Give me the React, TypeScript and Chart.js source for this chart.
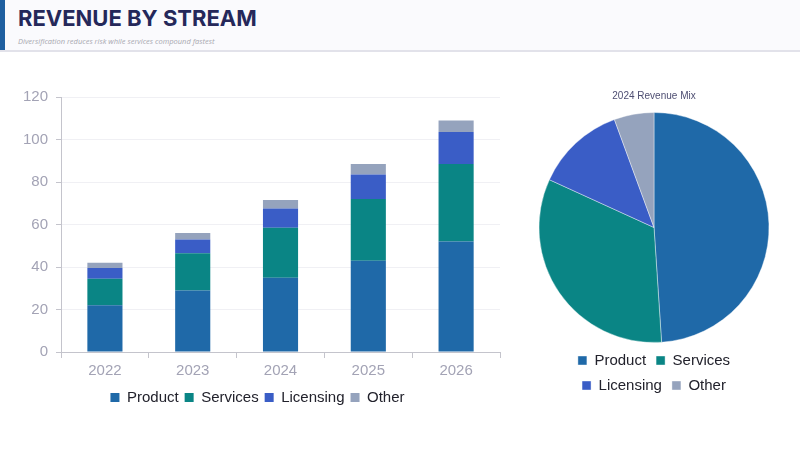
import { useEffect, useRef } from "react"
import { Chart, registerables } from "chart.js"

Chart.register(...registerables)

Chart.defaults.font.family = "'Liberation Sans', Arial, sans-serif"

const years = ["2022", "2023", "2024", "2025", "2026"]
const streams = ["Product", "Services", "Licensing", "Other"]
const product = [22, 29, 35, 43, 52]
const services = [12.5, 17.5, 23.5, 29, 36.5]
const licensing = [5, 6.5, 9, 11.5, 15]
const other = [2.5, 3, 4, 5, 5.5]
const yTicks = [0, 20, 40, 60, 80, 100, 120]
const pieYear = "2024"

const colors = ["#1f69a8", "#0a8585", "#3a5dc6", "#95a3bd"]
const tickColor = "#a3a3b5"
const axisColor = "#c4c4cc"

function BarChart() {
  const chartRef = useRef<HTMLCanvasElement>(null)
  const chartInstance = useRef<Chart | null>(null)

  useEffect(() => {
    if (!chartRef.current) return
    if (chartInstance.current) chartInstance.current.destroy()
    const ctx = chartRef.current.getContext("2d")
    if (!ctx) return

    const series = [product, services, licensing, other]

    chartInstance.current = new Chart(ctx, {
      type: "bar",
      data: {
        labels: years,
        datasets: series.map((values, i) => ({
          label: streams[i],
          data: values,
          backgroundColor: colors[i],
          barPercentage: 0.5,
          categoryPercentage: 0.8,
        })),
      },
      options: {
        animation: false,
        responsive: true,
        maintainAspectRatio: false,
        layout: { padding: { top: 5, right: 2, left: 5, bottom: 0 } },
        scales: {
          x: {
            stacked: true,
            grid: { drawOnChartArea: false, tickLength: 6, tickColor: axisColor },
            border: { color: axisColor },
            ticks: { color: tickColor, font: { size: 15 }, padding: 4 },
          },
          y: {
            stacked: true,
            min: yTicks[0],
            max: yTicks[yTicks.length - 1],
            ticks: { stepSize: 20, color: tickColor, font: { size: 15 }, padding: 8 },
            grid: { color: "#f0f0f4", tickLength: 5, tickColor: axisColor },
            border: { color: axisColor },
          },
        },
        plugins: {
          legend: {
            position: "bottom",
            labels: { boxWidth: 9, boxHeight: 9, color: "#22222c", font: { size: 15 }, padding: 6 },
          },
          tooltip: { enabled: false },
        },
      },
    })

    return () => {
      if (chartInstance.current) chartInstance.current.destroy()
    }
  }, [])

  return <canvas ref={chartRef} />
}

function PieChart() {
  const chartRef = useRef<HTMLCanvasElement>(null)
  const chartInstance = useRef<Chart | null>(null)

  useEffect(() => {
    if (!chartRef.current) return
    if (chartInstance.current) chartInstance.current.destroy()
    const ctx = chartRef.current.getContext("2d")
    if (!ctx) return

    const idx = years.indexOf(pieYear)

    chartInstance.current = new Chart(ctx, {
      type: "pie",
      data: {
        labels: streams,
        datasets: [
          {
            data: [product[idx], services[idx], licensing[idx], other[idx]],
            backgroundColor: colors,
            borderColor: "rgba(255,255,255,0.4)",
            borderWidth: 1,
          },
        ],
      },
      options: {
        animation: false,
        responsive: true,
        maintainAspectRatio: false,
        plugins: {
          title: {
            display: true,
            text: pieYear + " Revenue Mix",
            color: "#4e4e72",
            font: { size: 10, weight: "normal" },
            padding: { top: 5, bottom: 10 },
          },
          legend: {
            position: "bottom",
            labels: { boxWidth: 9, boxHeight: 9, color: "#22222c", font: { size: 15 }, padding: 10 },
          },
          tooltip: { enabled: false },
        },
      },
    })

    return () => {
      if (chartInstance.current) chartInstance.current.destroy()
    }
  }, [])

  return <canvas ref={chartRef} />
}

export default function App() {
  useEffect(() => {
    document.body.style.margin = "0"
  }, [])

  return (
    <div style={{ position: "absolute", left: 0, top: 0, width: 800, height: 450, background: "#fff", overflow: "hidden" }}>
      <div
        style={{
          position: "absolute",
          left: 0,
          top: 0,
          width: 800,
          height: 50,
          background: "#fafafd",
          borderBottom: "2px solid #e2e2ea",
        }}
      >
        <div style={{ position: "absolute", left: 0, top: 0, width: 5, height: 50, background: "#1f5fa0" }} />
        <div
          style={{
            position: "absolute",
            left: 18,
            top: 5,
            fontFamily: "Inter, sans-serif",
            fontWeight: 700,
            fontSize: 22,
            color: "#25285a",
          }}
        >
          REVENUE BY STREAM
        </div>
        <div
          style={{
            position: "absolute",
            left: 18,
            top: 36,
            fontFamily: "'Open Sans', sans-serif",
            fontStyle: "italic",
            fontSize: 7.5,
            color: "#a8a8b0",
          }}
        >
          Diversification reduces risk while services compound fastest
        </div>
      </div>
      <div style={{ position: "absolute", left: 10, top: 80, width: 492, height: 335 }}>
        <BarChart />
      </div>
      <div style={{ position: "absolute", left: 528, top: 85, width: 252, height: 318 }}>
        <PieChart />
      </div>
    </div>
  )
}
